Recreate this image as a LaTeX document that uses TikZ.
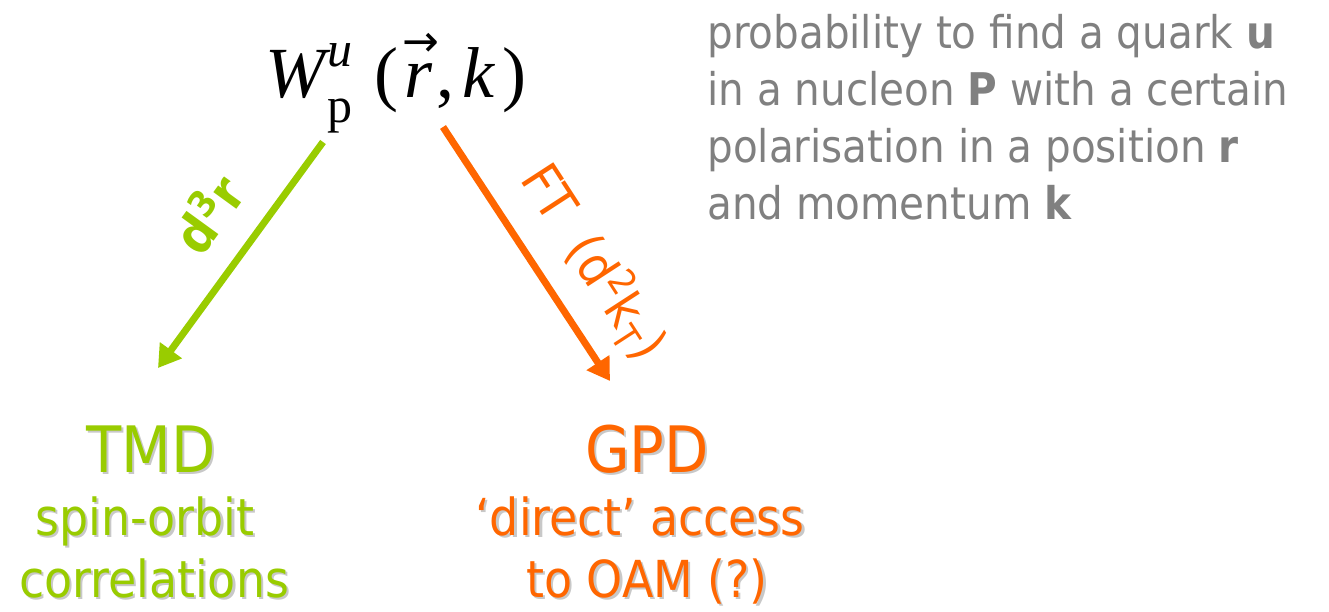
\documentclass[tikz,border=0pt]{standalone}
\usepackage{fontspec}
\setmainfont{DejaVu Sans Condensed}
\newfontfamily\timesf{Liberation Serif}
\newfontfamily\symf{DejaVu Sans}
\usetikzlibrary{arrows.meta,calc}
\definecolor{tmdgreen}{HTML}{99CC00}
\definecolor{gpdorange}{HTML}{FF6600}
\definecolor{notegray}{HTML}{808080}
\definecolor{shadowgray}{HTML}{C8C8C8}
\tikzset{
  px/.style={x=0.5pt,y=-0.5pt},
  flow/.style={line width=3.5pt,-{Triangle[width=13pt,length=11pt]}},
  big/.style={font=\fontsize{32}{36}\selectfont,inner sep=0pt,anchor=base},
  sub/.style={font=\fontsize{25.5}{28}\selectfont,inner sep=0pt,anchor=base},
  lbl/.style={inner sep=0pt,font=\fontsize{26}{30}\selectfont},
}
% text with a soft drop shadow: #1 name, #2 position, #3 style, #4 colour, #5 text
\newcommand\shtext[5]{%
  \node[#3,text=shadowgray] (#1s) at ($(#2)+(1.2pt,-1.2pt)$) {#5};
  \node[#3,text=#4] (#1) at (#2) {#5};}
% position vector r with an arrow on top
\newcommand\vecr{\makebox[0pt][l]{\raisebox{0.56em}{\kern-1pt\symf\fontsize{22}{22}\selectfont\upshape →}}r}
\begin{document}
\begin{tikzpicture}[px]
\useasboundingbox (0,0) rectangle (1329,611);
% distribution function
\node[inner sep=0pt,anchor=base west] (wig) at (265,97)
  {\timesf\fontsize{36}{40}\selectfont\itshape W\kern1pt%
   \rlap{\raisebox{0.42em}{\fontsize{25}{28}\selectfont u}}%
   \raisebox{-0.36em}{\fontsize{25}{28}\selectfont\upshape p}\kern11pt%
   \upshape(\kern3pt{\itshape\vecr}\kern2pt,\kern4pt{\itshape k}\kern4pt)};
% description
\node[inner sep=0pt,anchor=base west,align=left,text=notegray,
      font=\fontsize{22.5}{28.5}\selectfont] (note) at (707,219)
  {probability to find a quark \textbf{u}\\
   in a nucleon \textbf{P} with a certain\\
   polarisation in a position \textbf{r}\\
   and momentum \textbf{k}};
% arrows
\coordinate (gs) at (323,142);
\coordinate (ge) at (158,368);
\coordinate (os) at (443,127);
\coordinate (oe) at (610,381);
\draw[flow,draw=tmdgreen,fill=tmdgreen] (gs) -- (ge);
\draw[flow,draw=gpdorange,fill=gpdorange] (os) -- (oe);
\node[lbl,text=tmdgreen,rotate=54,font=\fontsize{26}{30}\selectfont\bfseries] (dr) at (207,213) {d\textsuperscript{3}r};
\node[lbl,text=gpdorange,rotate=-57] (ft) at (594,262) {FT\ \ (d\textsuperscript{2}k\textsubscript{T})};
% outcomes
\shtext{tmd}{151,472}{big}{tmdgreen}{TMD}
\shtext{tmda}{145,535}{sub}{tmdgreen}{spin-orbit}
\shtext{tmdb}{154,597}{sub}{tmdgreen}{correlations}
\shtext{gpd}{647,472}{big}{gpdorange}{GPD}
\shtext{gpda}{640,535}{sub}{gpdorange}{`direct' access}
\shtext{gpdb}{647,597}{sub}{gpdorange}{to OAM (?)}
\end{tikzpicture}
\end{document}
